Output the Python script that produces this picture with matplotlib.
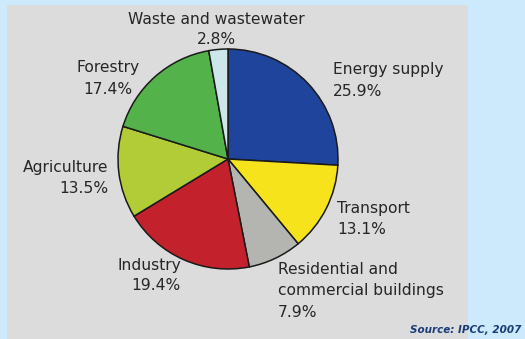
import matplotlib
matplotlib.use("Agg")
import matplotlib.pyplot as plt
from matplotlib.patches import Rectangle

categories = ["Energy supply", "Transport", "Residential and\ncommercial buildings",
              "Industry", "Agriculture", "Forestry", "Waste and wastewater"]
values = [25.9, 13.1, 7.9, 19.4, 13.5, 17.4, 2.8]
colors = ["#1f449c", "#f6e31c", "#b4b5b1", "#c3212c", "#b2cc38", "#53b34a", "#cde6ea"]
source = "Source: IPCC, 2007"

W, H = 525, 339
fig = plt.figure(figsize=(W / 100, H / 100), dpi=100, facecolor="#cdeafd")
ax = fig.add_axes([0, 0, 1, 1])

ax.add_patch(Rectangle((7, -5), 461, H - 5 + 5, facecolor="#dcdcdd", edgecolor="none", zorder=0))

cx, cy, r = 228, H - 159, 110
ax.pie(values, colors=colors, startangle=90, counterclock=False,
       center=(cx, cy), radius=r, frame=True,
       wedgeprops=dict(edgecolor="#1a1a1a", linewidth=1.1))
ax.set_xlim(0, W)
ax.set_ylim(0, H)
ax.set_aspect("equal")
ax.axis("off")

# label anchor: x, top of first line (pixels from top), alignment, line pitch
label_pos = {
    "Energy supply": (333, 62, "left", 21.5),
    "Transport": (337, 201, "left", 21),
    "Residential and\ncommercial buildings": (278, 262, "left", 21.5),
    "Industry": (181, 258, "right", 20),
    "Agriculture": (108, 160, "right", 21),
    "Forestry": (108, 60, "center", 21.5),
    "Waste and wastewater": (216, 12, "center", 20),
}
for cat, val in zip(categories, values):
    x, y, ha, pitch = label_pos[cat]
    lines = cat.split("\n") + [f"{val:.1f}%"]
    for i, line in enumerate(lines):
        ax.text(x, H - (y + i * pitch), line, ha=ha, va="top",
                fontsize=11.2, family="DejaVu Sans", color="#262626")

ax.text(521, H - 330, source, ha="right", va="center", fontsize=7.5,
        fontweight="bold", fontstyle="italic", family="DejaVu Sans", color="#1a3c78")

fig.savefig("out.png", dpi=100, facecolor=fig.get_facecolor())
